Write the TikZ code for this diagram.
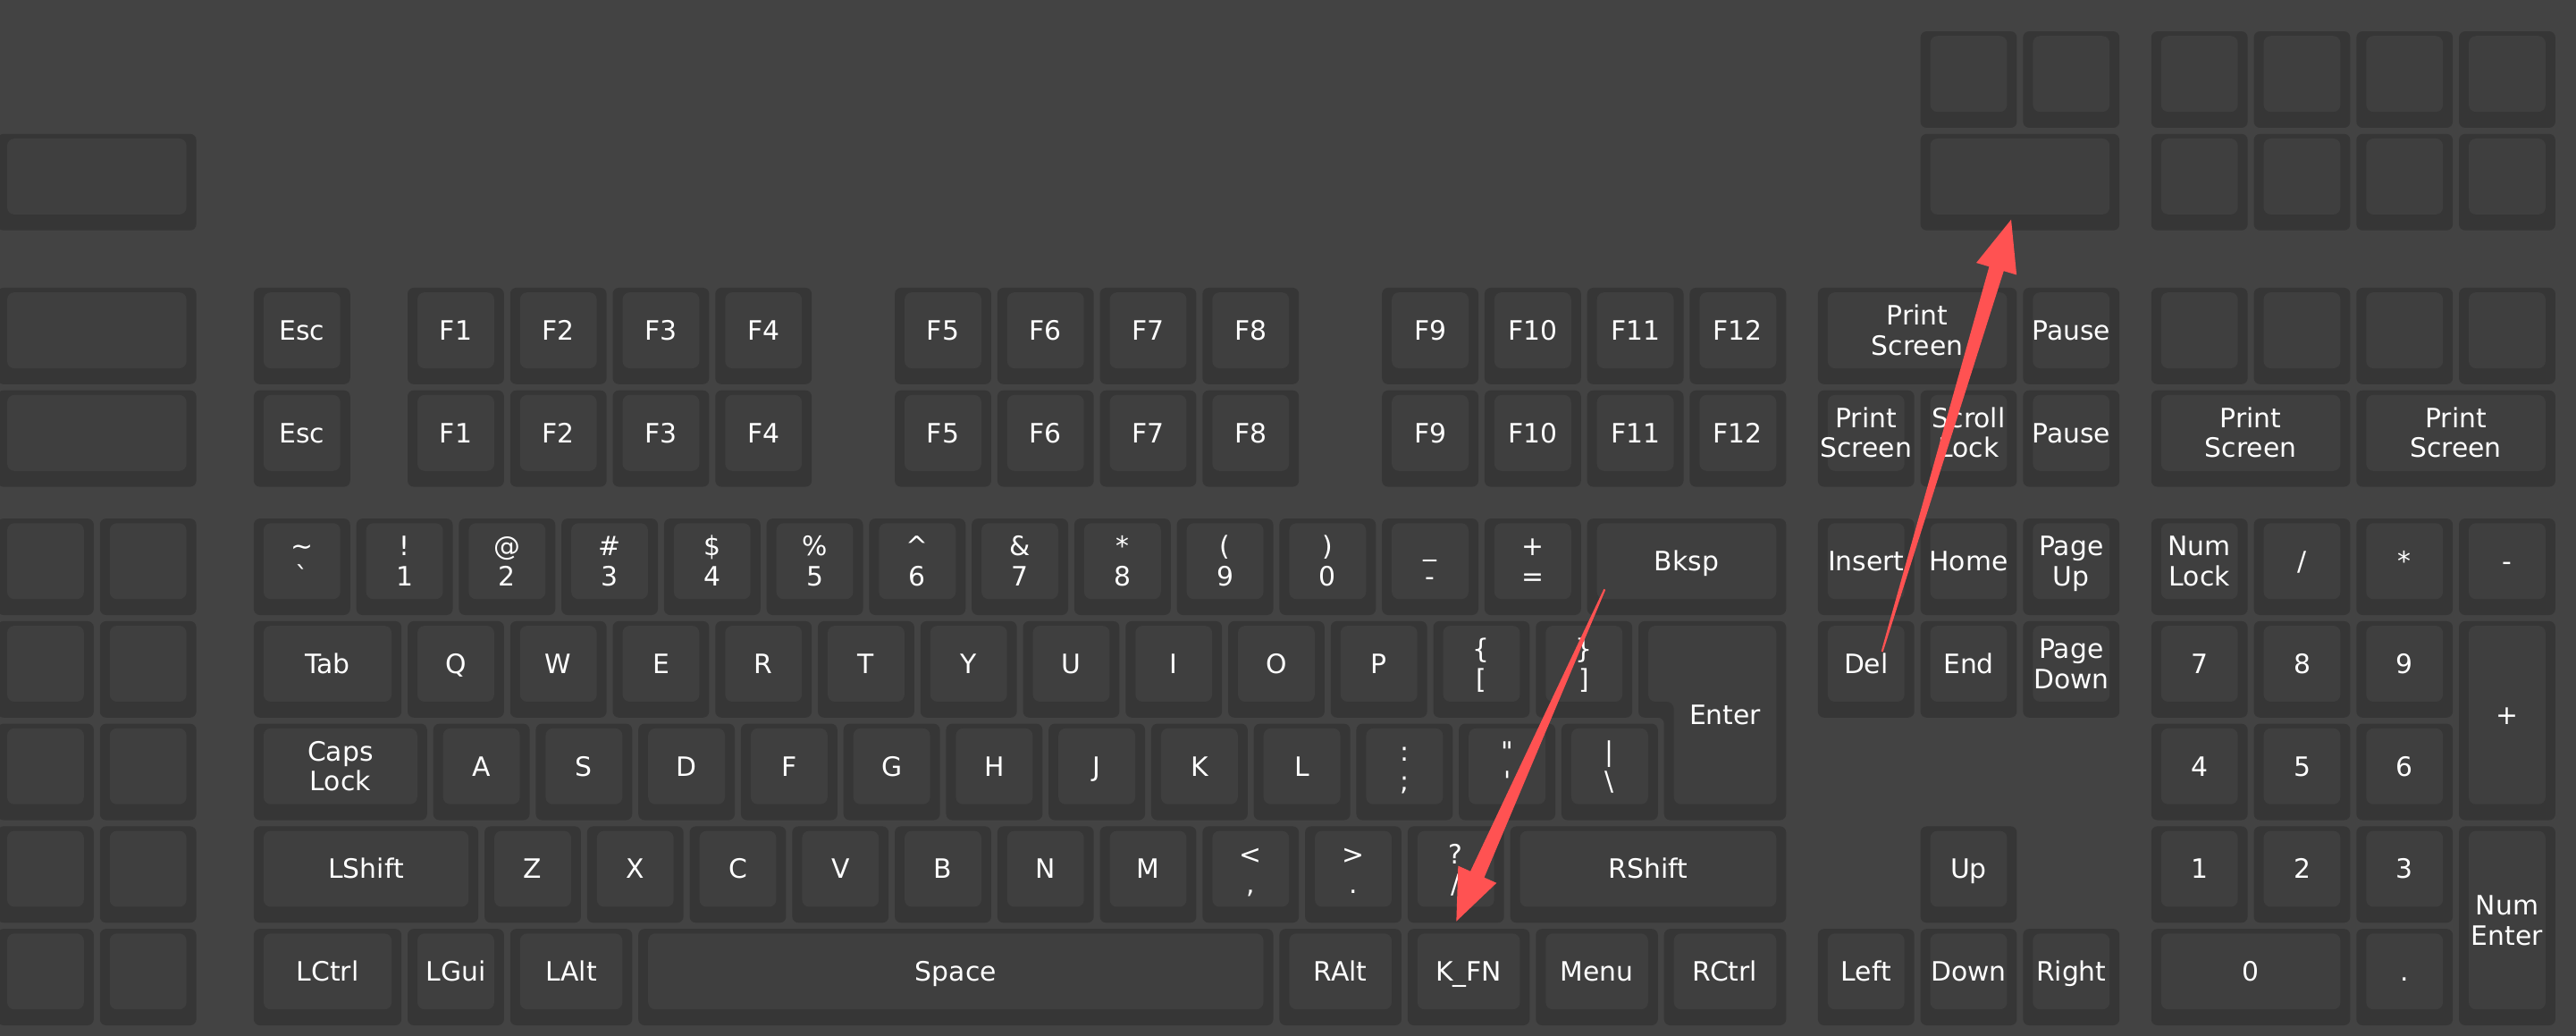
\documentclass[tikz,border=0pt]{standalone}
\usetikzlibrary{calc}
\font\kf="DejaVu Sans" at 7.39pt
\newdimen\kcap \kcap=5.39pt
\newdimen\klead \klead=8.3pt
\newcommand\lone[1]{\vbox{\offinterlineskip\kern\kcap\hbox to 0pt{\hss\smash{#1}\hss}}}
\newcommand\ltwo[2]{\vbox{\offinterlineskip\kern\kcap\hbox to 0pt{\hss\smash{#1}\hss}\kern\klead\hbox to 0pt{\hss\smash{#2}\hss}}}
\def\kg{0.06}\def\ksi{0.096}\def\kti{0.045}\def\kbi{0.155}
\definecolor{bgc}{RGB}{67,67,67}
\definecolor{koutc}{RGB}{54,54,54}
\definecolor{kinc}{RGB}{63,63,63}
\definecolor{arrc}{RGB}{255,82,82}
\tikzset{
 kout/.style={fill=koutc, rounded corners=0.06cm},
 kin/.style={fill=kinc, rounded corners=0.07cm},
 lab/.style={font=\kf, text=white, inner sep=0pt, outer sep=0pt},
 arrowfill/.style={fill=arrc},
}
\newcommand\kbd[6]{%
 \fill[kout] (#2,#3) rectangle ({#2+#4-\kg},{#3+#5-\kg});
 \fill[kin] ({#2+\ksi},{#3+\kti}) rectangle ({#2+#4-\kg-\ksi},{#3+#5-\kg-\kbi});
 \node[lab] (#1) at ({#2+(#4-\kg)/2},{#3+(\kti+#5-\kg-\kbi)/2}) {#6};
}
\begin{document}
\begin{tikzpicture}[x=1cm,y=-1cm]
\fill[bgc] (0,0) rectangle (25.1155,10.1002);
\useasboundingbox (0,0) rectangle (25.1155,10.1002);
\begin{scope}[shift={(-0.0261,0.3059)}]
% left cluster
\kbd{l0}{0}{1}{2}{1}{}
\kbd{l1}{0}{2.5}{2}{1}{}
\kbd{l2}{0}{3.5}{2}{1}{}
\foreach \y [count=\i] in {4.75,5.75,6.75,7.75,8.75} {\kbd{la\i}{0}{\y}{1}{1}{} \kbd{lb\i}{1}{\y}{1}{1}{}}
% top right
\kbd{ta1}{18.75}{0}{1}{1}{}
\kbd{ta2}{19.75}{0}{1}{1}{}
\kbd{tb}{18.75}{1}{2}{1}{}
\foreach \x [count=\i] in {21,22,23,24} {\kbd{na\i}{\x}{0}{1}{1}{} \kbd{nb\i}{\x}{1}{1}{1}{} \kbd{nc\i}{\x}{2.5}{1}{1}{}}
% function rows
\foreach \r/\s in {2.5/a,3.5/b} {
 \kbd{esc\s}{2.5}{\r}{1}{1}{\lone{Esc}}
 \foreach \x/\n in {4/1,5/2,6/3,7/4,8.75/5,9.75/6,10.75/7,11.75/8,13.5/9,14.5/10,15.5/11,16.5/12} {\kbd{f\n\s}{\x}{\r}{1}{1}{\lone{F\n}}}
}
\kbd{prt1}{17.75}{2.5}{2}{1}{\ltwo{Print}{Screen}}
\kbd{pause1}{19.75}{2.5}{1}{1}{\lone{Pause}}
\kbd{prt2}{17.75}{3.5}{1}{1}{\ltwo{Print}{Screen}}
\kbd{scr}{18.75}{3.5}{1}{1}{\ltwo{Scroll}{Lock}}
\kbd{pause2}{19.75}{3.5}{1}{1}{\lone{Pause}}
\kbd{prt3}{21}{3.5}{2}{1}{\ltwo{Print}{Screen}}
\kbd{prt4}{23}{3.5}{2}{1}{\ltwo{Print}{Screen}}
% number row
\kbd{grave}{2.5}{4.75}{1}{1}{\ltwo{\char"7E}{`}}
\kbd{k1}{3.5}{4.75}{1}{1}{\ltwo{!}{1}}
\kbd{k2}{4.5}{4.75}{1}{1}{\ltwo{@}{2}}
\kbd{k3}{5.5}{4.75}{1}{1}{\ltwo{\#}{3}}
\kbd{k4}{6.5}{4.75}{1}{1}{\ltwo{\char"24}{4}}
\kbd{k5}{7.5}{4.75}{1}{1}{\ltwo{\%}{5}}
\kbd{k6}{8.5}{4.75}{1}{1}{\ltwo{\char"5E}{6}}
\kbd{k7}{9.5}{4.75}{1}{1}{\ltwo{\&}{7}}
\kbd{k8}{10.5}{4.75}{1}{1}{\ltwo{*}{8}}
\kbd{k9}{11.5}{4.75}{1}{1}{\ltwo{(}{9}}
\kbd{k0}{12.5}{4.75}{1}{1}{\ltwo{)}{0}}
\kbd{minus}{13.5}{4.75}{1}{1}{\ltwo{\char"5F}{-}}
\kbd{equal}{14.5}{4.75}{1}{1}{\ltwo{+}{=}}
\kbd{bksp}{15.5}{4.75}{2}{1}{\lone{Bksp}}
\kbd{ins}{17.75}{4.75}{1}{1}{\lone{Insert}}
\kbd{home}{18.75}{4.75}{1}{1}{\lone{Home}}
\kbd{pgup}{19.75}{4.75}{1}{1}{\ltwo{Page}{Up}}
\kbd{numlk}{21}{4.75}{1}{1}{\ltwo{Num}{Lock}}
\kbd{pslash}{22}{4.75}{1}{1}{\lone{/}}
\kbd{pstar}{23}{4.75}{1}{1}{\lone{*}}
\kbd{pminus}{24}{4.75}{1}{1}{\lone{-}}
% qwerty row
\kbd{tab}{2.5}{5.75}{1.5}{1}{\lone{Tab}}
\foreach \x/\l in {4/Q,5/W,6/E,7/R,8/T,9/Y,10/U,11/I,12/O,13/P} {\kbd{key\l}{\x}{5.75}{1}{1}{\lone{\l}}}
\kbd{lbrk}{14}{5.75}{1}{1}{\ltwo{\char"7B}{[}}
\kbd{rbrk}{15}{5.75}{1}{1}{\ltwo{\char"7D}{]}}
\fill[kout] (16,5.75) -- (17.44,5.75) -- (17.44,7.69) -- (16.25,7.69) -- (16.25,6.69) -- (16,6.69) -- cycle;
\fill[kin] (16.096,5.795) -- (17.344,5.795) -- (17.344,7.535) -- (16.346,7.535) -- (16.346,6.535) -- (16.096,6.535) -- cycle;
\node[lab] (enter) at (16.845,6.665) {\lone{Enter}};
\kbd{del}{17.75}{5.75}{1}{1}{\lone{Del}}
\kbd{end}{18.75}{5.75}{1}{1}{\lone{End}}
\kbd{pgdn}{19.75}{5.75}{1}{1}{\ltwo{Page}{Down}}
\kbd{p7}{21}{5.75}{1}{1}{\lone{7}}
\kbd{p8}{22}{5.75}{1}{1}{\lone{8}}
\kbd{p9}{23}{5.75}{1}{1}{\lone{9}}
\kbd{pplus}{24}{5.75}{1}{2}{\lone{+}}
% home row
\kbd{caps}{2.5}{6.75}{1.75}{1}{\ltwo{Caps}{Lock}}
\foreach \x/\l in {4.25/A,5.25/S,6.25/D,7.25/F,8.25/G,9.25/H,10.25/J,11.25/K,12.25/L} {\kbd{key\l}{\x}{6.75}{1}{1}{\lone{\l}}}
\kbd{semi}{13.25}{6.75}{1}{1}{\ltwo{:}{;}}
\kbd{quote}{14.25}{6.75}{1}{1}{\ltwo{"}{'}}
\kbd{bslash}{15.25}{6.75}{1}{1}{\ltwo{|}{\char"5C}}
\kbd{p4}{21}{6.75}{1}{1}{\lone{4}}
\kbd{p5}{22}{6.75}{1}{1}{\lone{5}}
\kbd{p6}{23}{6.75}{1}{1}{\lone{6}}
% shift row
\kbd{lshift}{2.5}{7.75}{2.25}{1}{\lone{LShift}}
\foreach \x/\l in {4.75/Z,5.75/X,6.75/C,7.75/V,8.75/B,9.75/N,10.75/M} {\kbd{key\l}{\x}{7.75}{1}{1}{\lone{\l}}}
\kbd{comma}{11.75}{7.75}{1}{1}{\ltwo{<}{,}}
\kbd{period}{12.75}{7.75}{1}{1}{\ltwo{>}{.}}
\kbd{slash}{13.75}{7.75}{1}{1}{\ltwo{?}{/}}
\kbd{rshift}{14.75}{7.75}{2.75}{1}{\lone{RShift}}
\kbd{up}{18.75}{7.75}{1}{1}{\lone{Up}}
\kbd{p1}{21}{7.75}{1}{1}{\lone{1}}
\kbd{p2}{22}{7.75}{1}{1}{\lone{2}}
\kbd{p3}{23}{7.75}{1}{1}{\lone{3}}
\kbd{pent}{24}{7.75}{1}{2}{\ltwo{Num}{Enter}}
% bottom row
\kbd{lctrl}{2.5}{8.75}{1.5}{1}{\lone{LCtrl}}
\kbd{lgui}{4}{8.75}{1}{1}{\lone{LGui}}
\kbd{lalt}{5}{8.75}{1.25}{1}{\lone{LAlt}}
\kbd{space}{6.25}{8.75}{6.25}{1}{\lone{Space}}
\kbd{ralt}{12.5}{8.75}{1.25}{1}{\lone{RAlt}}
\kbd{kfn}{13.75}{8.75}{1.25}{1}{\lone{K\char"5F FN}}
\kbd{menu}{15}{8.75}{1.25}{1}{\lone{Menu}}
\kbd{rctrl}{16.25}{8.75}{1.25}{1}{\lone{RCtrl}}
\kbd{left}{17.75}{8.75}{1}{1}{\lone{Left}}
\kbd{down}{18.75}{8.75}{1}{1}{\lone{Down}}
\kbd{right}{19.75}{8.75}{1}{1}{\lone{Right}}
\kbd{p0}{21}{8.75}{2}{1}{\lone{0}}
\kbd{pdot}{23}{8.75}{1}{1}{\lone{.}}
\end{scope}
% arrows
\coordinate (t1) at (18.350,6.353);
\coordinate (p1) at (19.608,2.141);
\coordinate (b1) at ($(p1)!0.501cm!(t1)$);
\fill[arrowfill] ($(t1)!0.009cm!90:(p1)$) -- ($(b1)!0.074cm!90:(p1)$) -- ($(b1)!0.205cm!90:(p1)$) -- (p1) -- ($(b1)!0.205cm!-90:(p1)$) -- ($(b1)!0.074cm!-90:(p1)$) -- ($(t1)!0.009cm!-90:(p1)$) -- cycle;
\coordinate (t2) at (15.645,5.746);
\coordinate (p2) at (14.199,8.982);
\coordinate (b2) at ($(p2)!0.501cm!(t2)$);
\fill[arrowfill] ($(t2)!0.009cm!90:(p2)$) -- ($(b2)!0.074cm!90:(p2)$) -- ($(b2)!0.205cm!90:(p2)$) -- (p2) -- ($(b2)!0.205cm!-90:(p2)$) -- ($(b2)!0.074cm!-90:(p2)$) -- ($(t2)!0.009cm!-90:(p2)$) -- cycle;
\end{tikzpicture}
\end{document}
